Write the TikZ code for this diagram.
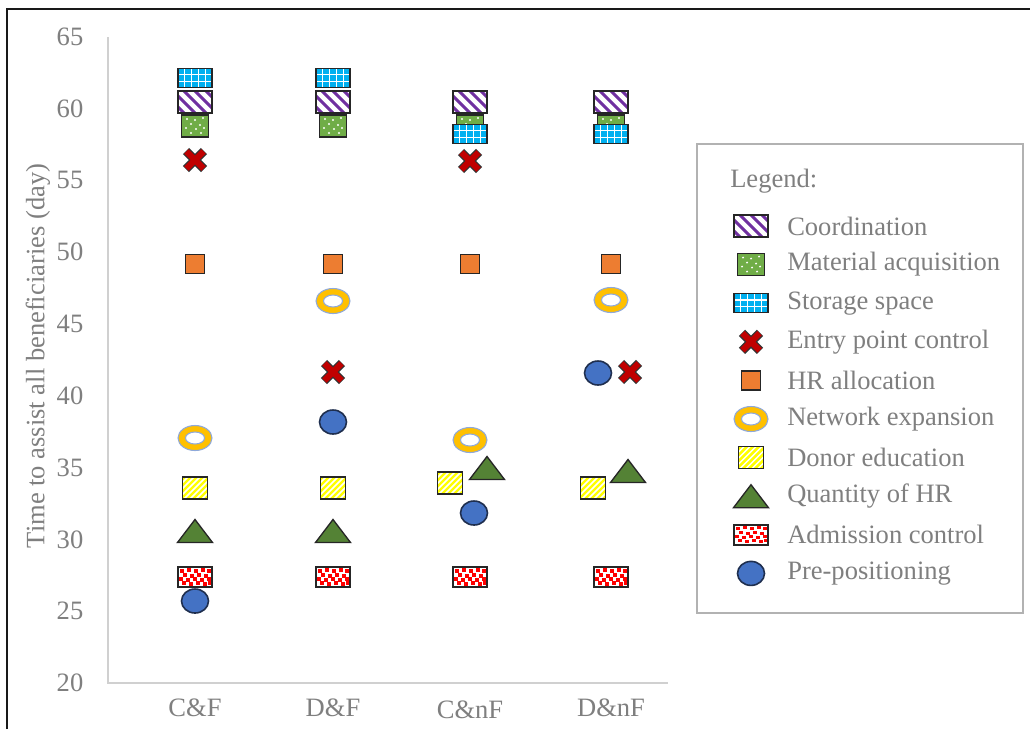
\documentclass[tikz,border=0pt]{standalone}
\usepackage{fontspec}
\setmainfont{Liberation Serif}
\definecolor{txtgray}{HTML}{7F7F7F}
\definecolor{axgray}{HTML}{D0D0D0}
\definecolor{coordpurple}{HTML}{7030A0}
\definecolor{matgreen}{HTML}{70AD47}
\definecolor{storblue}{HTML}{00B0F0}
\definecolor{entryred}{HTML}{C00000}
\definecolor{hrorange}{HTML}{ED7D31}
\definecolor{netgold}{HTML}{FFC000}
\definecolor{netedge}{HTML}{8EA9DB}
\definecolor{donyellow}{HTML}{FFFF00}
\definecolor{qtygreen}{HTML}{548235}
\definecolor{admred}{HTML}{FF0000}
\definecolor{preblue}{HTML}{4472C4}
\definecolor{predge}{HTML}{1F2F4F}
\tikzset{
  mk/.style={line width=1.1pt, draw=black!85},
  lbl/.style={inner sep=0pt, text=txtgray, font=\fontsize{19.9}{22}\selectfont},
  % Coordination: white box with purple diagonal stripes
  coordmk/.pic={
    \begin{scope}
      \clip (-17,-11) rectangle (17,11);
      \fill[white] (-17,-11) rectangle (17,11);
      \foreach \k in {-44,-33,...,44}
        \draw[coordpurple, line width=2.3pt] (\k-14,-14) -- (\k+14,14);
    \end{scope}
    \draw[mk] (-17,-11) rectangle (17,11);
  },
  % Material acquisition: green box with white dots
  matmk/.pic={
    \fill[matgreen] (-13.5,-11) rectangle (13.5,11);
    \foreach \p in {(-8,-7),(0,-6),(8,-8),(-4,-2),(5,-1),(-9,2),(1,3),(9,2),(-4,7),(6,7)}
      \fill[white] \p circle [radius=1.1];
    \draw[mk] (-13.5,-11) rectangle (13.5,11);
  },
  % Storage space: blue box with white grid
  stormk/.pic={
    \fill[storblue] (-17,-9.5) rectangle (17,9.5);
    \foreach \u in {-10.2,-3.4,3.4,10.2}
      \draw[white, line width=1pt] (\u,-9.5) -- (\u,9.5);
    \foreach \v in {-3.2,3.2}
      \draw[white, line width=1pt] (-17,\v) -- (17,\v);
    \draw[mk] (-17,-9.5) rectangle (17,9.5);
  },
  % Entry point control: red cross
  entrymk/.pic={
    \draw[black!80, line width=6.6pt] (-9,-9) -- (9,9) (-9,9) -- (9,-9);
    \draw[entryred, line width=4.6pt] (-8.6,-8.6) -- (8.6,8.6) (-8.6,8.6) -- (8.6,-8.6);
  },
  % HR allocation: orange square
  hrmk/.pic={
    \draw[mk, fill=hrorange] (-9.5,-9.5) rectangle (9.5,9.5);
  },
  % Network expansion: gold ring
  netmk/.pic={
    \draw[netedge, line width=0.8pt, fill=netgold] (0,0) ellipse [x radius=17, y radius=12.5];
    \draw[netedge, line width=0.8pt, fill=white] (0,0) ellipse [x radius=9.5, y radius=6];
  },
  % Donor education: yellow box with white stripes
  donmk/.pic={
    \begin{scope}
      \clip (-12.5,-11) rectangle (12.5,11);
      \fill[donyellow] (-12.5,-11) rectangle (12.5,11);
      \foreach \k in {-36,-30,...,36}
        \draw[white, line width=1.1pt] (\k-14,14) -- (\k+14,-14);
    \end{scope}
    \draw[mk] (-12.5,-11) rectangle (12.5,11);
  },
  % Quantity of HR: green triangle
  qtymk/.pic={
    \draw[line width=1pt, draw=black!85, fill=qtygreen, line join=miter]
      (-17.5,11.5) -- (17.5,11.5) -- (0,-11.5) -- cycle;
  },
  % Admission control: white box with scattered red squares
  admmk/.pic={
    \fill[white] (-17,-10) rectangle (17,10);
    \foreach \p/\q in {-13/-6,-6/-7,1/-6,8/-7,14/-6,
                       -10/-2,-3/-1,4/-2,11/-1,
                       -14/2,-7/3,0/2,7/3,14/2,
                       -11/6,-4/7,3/6,10/7,15/6}
      \fill[admred] (\p-1.6,\q-1.6) rectangle (\p+1.6,\q+1.6);
    \draw[mk] (-17,-10) rectangle (17,10);
  },
  % Pre-positioning: blue ellipse
  premk/.pic={
    \draw[line width=1.2pt, draw=predge, fill=preblue] (0,0) ellipse [x radius=13.5, y radius=12];
  },
}
\begin{document}
\begin{tikzpicture}[x=0.75pt, y=-0.75pt]
\useasboundingbox (0,0) rectangle (1030,729);
\fill[white] (0,0) rectangle (1030,729);

% outer frame (left and top edges)
\draw[black!90, line width=1.8pt] (7,729) -- (7,9) -- (1030,9);

% axes
\coordinate (org) at (108,683);
\coordinate (ytop) at (108,37);
\coordinate (xend) at (668,683);
\draw[axgray, line width=1pt] (ytop) -- (org) -- (xend);

% y tick labels
\foreach \v in {20,25,...,65}
  \node[lbl] (tick\v) at (70,{683-(\v-20)*14.36}) {\v};

% axis title
\node[lbl, rotate=90] (ytitle) at (38,356) {Time to assist all beneficiaries (day)};

% category labels
\node[lbl] (catA) at (195,708) {C\&F};
\node[lbl] (catB) at (333,708) {D\&F};
\node[lbl] (catC) at (470,710) {C\&nF};
\node[lbl] (catD) at (611,708) {D\&nF};

% data markers, drawn series by series
\pic at (195,102) {coordmk};
\pic at (333,102) {coordmk};
\pic at (470,102) {coordmk};
\pic at (611,102) {coordmk};

\pic at (195,126) {matmk};
\pic at (333,126) {matmk};
\pic at (470,126) {matmk};
\pic at (611,126) {matmk};

\pic at (195,78) {stormk};
\pic at (333,78) {stormk};
\pic at (470,134) {stormk};
\pic at (611,134) {stormk};

\pic at (195,160) {entrymk};
\pic at (333,372) {entrymk};
\pic at (470,161) {entrymk};
\pic at (630,372) {entrymk};

\pic at (195,264) {hrmk};
\pic at (333,264) {hrmk};
\pic at (470,264) {hrmk};
\pic at (611,264) {hrmk};

\pic at (195,438) {netmk};
\pic at (333,301) {netmk};
\pic at (470,440) {netmk};
\pic at (611,300) {netmk};

\pic at (195,488) {donmk};
\pic at (333,488) {donmk};
\pic at (450,483) {donmk};
\pic at (593,488) {donmk};

\pic at (195,531) {qtymk};
\pic at (333,531) {qtymk};
\pic at (487,468) {qtymk};
\pic at (628,471) {qtymk};

\pic at (195,577) {admmk};
\pic at (333,577) {admmk};
\pic at (470,577) {admmk};
\pic at (611,577) {admmk};

\pic at (195,601) {premk};
\pic at (333,422) {premk};
\pic at (474,513) {premk};
\pic at (598,373) {premk};

% legend
\draw[black!30, line width=1.2pt] (697,144) rectangle (1023,613);
\node[lbl, anchor=west] (legtitle) at (730,181) {Legend:};
\foreach \m/\t [count=\i from 0] in {coordmk/Coordination, matmk/Material acquisition,
    stormk/Storage space, entrymk/Entry point control, hrmk/HR allocation,
    netmk/Network expansion, donmk/Donor education, qtymk/Quantity of HR,
    admmk/Admission control, premk/Pre-positioning}{
  \pic at (751,{226+38.6*\i}) {\m};
  \node[lbl, anchor=west] (leg\i) at (787,{226+38.6*\i}) {\t};
}
\end{tikzpicture}
\end{document}
